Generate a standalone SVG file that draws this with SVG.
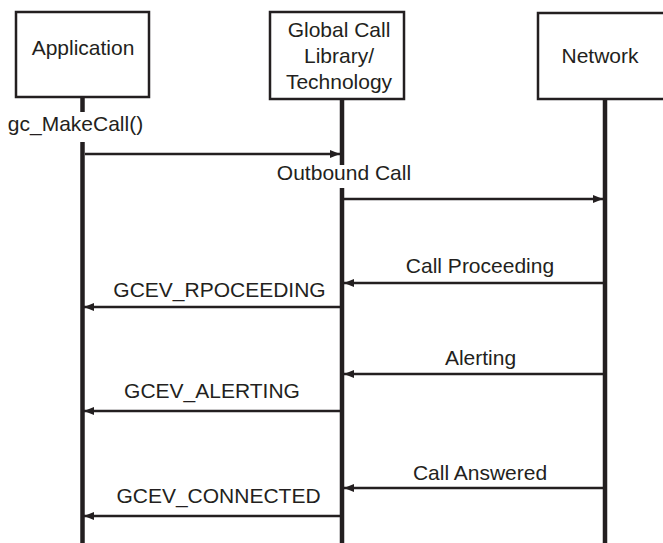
<svg xmlns="http://www.w3.org/2000/svg" width="663" height="543" viewBox="0 0 663 543">
  <defs>
    <marker id="head" markerUnits="userSpaceOnUse" markerWidth="12" markerHeight="10" refX="10" refY="4" orient="auto">
      <path d="M0,0 L10,4 L0,8 z" fill="#231f20"/>
    </marker>
    <style>
      .box { fill: #fff; stroke: #231f20; stroke-width: 2.5; }
      .life { stroke: #231f20; stroke-width: 4.5; fill: none; }
      .msg { stroke: #231f20; stroke-width: 2.5; fill: none; marker-end: url(#head); }
      text { font-family: "Liberation Sans", Arial, Helvetica, sans-serif; font-size: 21px; fill: #231f20; text-anchor: middle; }
    </style>
  </defs>
  <rect width="663" height="543" fill="#fff"/>

  <!-- Participants -->
  <g id="application">
    <rect class="box" x="16" y="12" width="133" height="85"/>
    <text x="83" y="55">Application</text>
    <line class="life" x1="82.5" y1="97" x2="82.5" y2="112"/>
    <line class="life" x1="82.5" y1="142" x2="82.5" y2="543"/>
  </g>

  <g id="global-call">
    <rect class="box" x="270" y="12" width="134" height="87"/>
    <text x="339" y="37">Global Call</text>
    <text x="339" y="63">Library/</text>
    <text x="339" y="89">Technology</text>
    <line class="life" x1="342" y1="99" x2="342" y2="165"/>
    <line class="life" x1="342" y1="188" x2="342" y2="543"/>
  </g>

  <g id="network">
    <rect class="box" x="538" y="13" width="150" height="86"/>
    <text x="600" y="63">Network</text>
    <line class="life" x1="605" y1="99" x2="605" y2="543"/>
  </g>

  <!-- Messages -->
  <g id="connectors">
    <line class="msg" x1="85" y1="154" x2="340" y2="154"/>
    <line class="msg" x1="344" y1="199" x2="603" y2="199"/>
    <line class="msg" x1="603" y1="283" x2="344" y2="283"/>
    <line class="msg" x1="340" y1="307" x2="84" y2="307"/>
    <line class="msg" x1="603" y1="374" x2="344" y2="374"/>
    <line class="msg" x1="340" y1="411" x2="84" y2="411"/>
    <line class="msg" x1="603" y1="488" x2="344" y2="488"/>
    <line class="msg" x1="340" y1="516" x2="84" y2="516"/>
  </g>

  <!-- Message labels -->
  <g id="labels">
    <text x="75.5" y="131">gc_MakeCall()</text>
    <text x="344" y="180">Outbound Call</text>
    <text x="480" y="273">Call Proceeding</text>
    <text x="219.5" y="297">GCEV_RPOCEEDING</text>
    <text x="480.5" y="365">Alerting</text>
    <text x="212" y="398">GCEV_ALERTING</text>
    <text x="480" y="480">Call Answered</text>
    <text x="218.5" y="503">GCEV_CONNECTED</text>
  </g>
</svg>
